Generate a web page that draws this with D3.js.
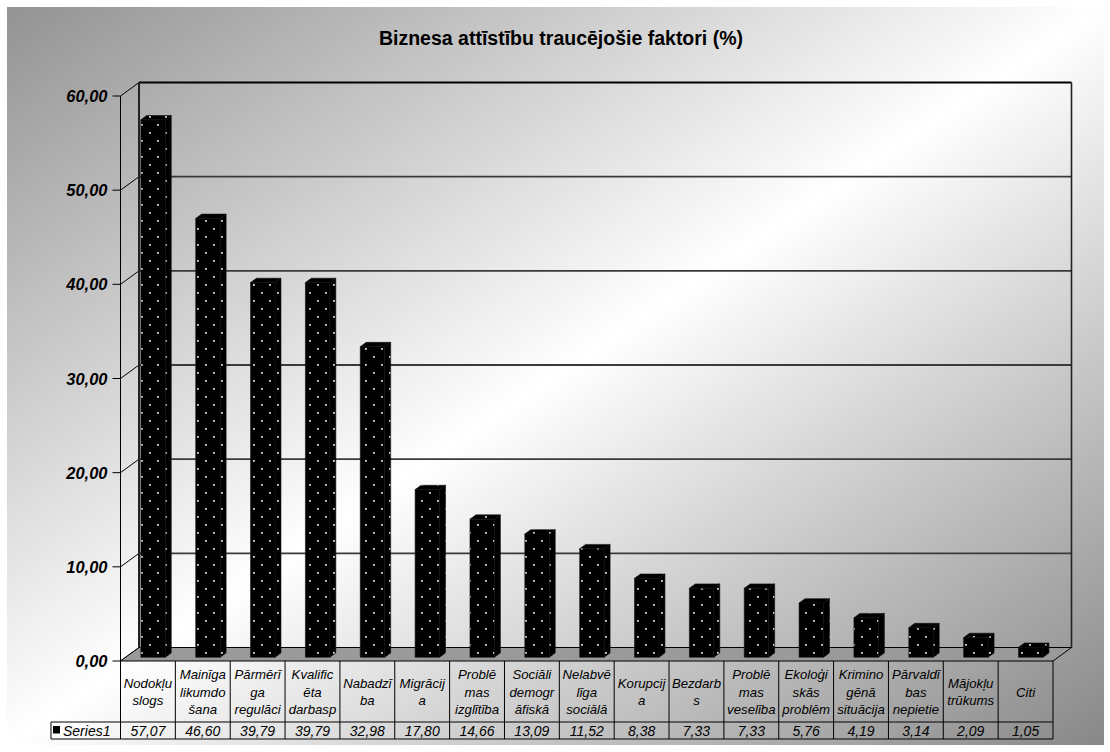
<!DOCTYPE html>
<html><head><meta charset="utf-8">
<script src="https://cdn.jsdelivr.net/npm/d3@7"></script>
<style>html,body{margin:0;padding:0;background:#fff;}svg{display:block;}</style>
</head><body>
<svg id="chart" width="1110" height="752"></svg>
<script>
const title = "Biznesa attīstību traucējošie faktori (%)";
const seriesName = "Series1";
const categories = [
  ["Nodokļu","slogs"],
  ["Mainīga","likumdo","šana"],
  ["Pārmērī","ga","regulāci"],
  ["Kvalific","ēta","darbasp"],
  ["Nabadzī","ba"],
  ["Migrācij","a"],
  ["Problē","mas","izglītība"],
  ["Sociāli","demogr","āfiskā"],
  ["Nelabvē","līga","sociālā"],
  ["Korupcij","a"],
  ["Bezdarb","s"],
  ["Problē","mas","veselība"],
  ["Ekoloģi","skās","problēm"],
  ["Krimino","gēnā","situācija"],
  ["Pārvaldī","bas","nepietie"],
  ["Mājokļu","trūkums"],
  ["Citi"]
];
const values = [57.07,46.60,39.79,39.79,32.98,17.80,14.66,13.09,11.52,8.38,7.33,7.33,5.76,4.19,3.14,2.09,1.05];
const yTicks = [0,10,20,30,40,50,60];

const svg = d3.select("#chart");
const defs = svg.append("defs");
const bg = defs.append("linearGradient").attr("id","bg").attr("x1",0).attr("y1",0).attr("x2",1).attr("y2",1);
bg.append("stop").attr("offset",0).attr("stop-color","#939393");
bg.append("stop").attr("offset",0.5).attr("stop-color","#ffffff");
bg.append("stop").attr("offset",1).attr("stop-color","#888888");
const pat = defs.append("pattern").attr("id","dots").attr("patternUnits","userSpaceOnUse")
  .attr("width",16).attr("height",16).attr("x",3).attr("y",2);
pat.append("rect").attr("width",16).attr("height",16).attr("fill","#000");
pat.append("rect").attr("x",2).attr("y",2).attr("width",1.8).attr("height",1.8).attr("fill","#dcdcdc");
pat.append("rect").attr("x",10).attr("y",10).attr("width",1.8).attr("height",1.8).attr("fill","#dcdcdc");

svg.append("rect").attr("x",7).attr("y",7).attr("width",1097).attr("height",738).attr("fill","url(#bg)");

const FONT = "Arial, 'Liberation Sans', sans-serif";
svg.append("text").attr("x",561).attr("y",45).attr("text-anchor","middle")
  .attr("font-family",FONT).attr("font-weight","bold").attr("font-size",19.5).text(title);

// geometry
const x0 = 120.5, x1 = 1053;
const DX = 18.5, DY = -13.5;
const y = d3.scaleLinear().domain([0,60]).range([661,96]);
const x = d3.scaleBand().domain(d3.range(categories.length)).range([x0,x1]).paddingInner(0).paddingOuter(0);
const fmt = v => d3.format(".2f")(v).replace(".", ",");

// back wall gridlines
const g = svg.append("g");
yTicks.filter(t => t>0 && t<60).forEach(t => {
  g.append("line").attr("x1",x0+DX).attr("x2",x1+DX).attr("y1",y(t)+DY).attr("y2",y(t)+DY)
    .attr("stroke","#3a3a3a").attr("stroke-width",1.8);
});
// left wall diagonals
yTicks.forEach(t => {
  g.append("line").attr("x1",x0).attr("y1",y(t)).attr("x2",x0+DX).attr("y2",y(t)+DY)
    .attr("stroke","#000").attr("stroke-width",1);
});
// back wall outline
g.append("line").attr("x1",x0+DX).attr("x2",x1+DX).attr("y1",y(60)+DY).attr("y2",y(60)+DY).attr("stroke","#000").attr("stroke-width",2);
g.append("line").attr("x1",x0+DX).attr("x2",x0+DX).attr("y1",y(60)+DY).attr("y2",y(0)+DY).attr("stroke","#222").attr("stroke-width",2);
g.append("line").attr("x1",x1+DX).attr("x2",x1+DX).attr("y1",y(60)+DY).attr("y2",y(0)+DY).attr("stroke","#222").attr("stroke-width",1.6);

// floor
g.append("path").attr("d",`M${x0},${y(0)}L${x1},${y(0)}L${x1+DX},${y(0)+DY}L${x0+DX},${y(0)+DY}Z`)
  .attr("fill","#9a9a9a").attr("stroke","#000").attr("stroke-width",1);

// bars
const f0 = 0.28, f1 = 0.6;
const bw = 24.5;
const bars = svg.append("g");
values.forEach((v,i) => {
  const cx = x(i) + x.bandwidth()/2 + f0*DX;
  const xl = cx - bw/2, xr = cx + bw/2;
  const yb = y(0) + f0*DY, yt = y(v) + f0*DY;
  const ddx = (f1-f0)*DX, ddy = (f1-f0)*DY;
  const faces = [
    `M${xl},${yb}L${xr},${yb}L${xr},${yt}L${xl},${yt}Z`,
    `M${xl},${yt}L${xr},${yt}L${xr+ddx},${yt+ddy}L${xl+ddx},${yt+ddy}Z`,
    `M${xr},${yb}L${xr+ddx},${yb+ddy}L${xr+ddx},${yt+ddy}L${xr},${yt}Z`
  ];
  faces.forEach(d => bars.append("path").attr("d",d).attr("fill","url(#dots)").attr("stroke","#111").attr("stroke-width",0.6));
});

// front y axis
const ax = svg.append("g");
ax.append("line").attr("x1",x0).attr("x2",x0).attr("y1",y(60)).attr("y2",739).attr("stroke","#000").attr("stroke-width",1);
yTicks.forEach(t => {
  ax.append("line").attr("x1",x0-8).attr("x2",x0).attr("y1",y(t)).attr("y2",y(t)).attr("stroke","#000");
  ax.append("text").attr("x",x0-13).attr("y",y(t)+6).attr("text-anchor","end")
    .attr("font-family",FONT).attr("font-weight","bold").attr("font-style","italic").attr("font-size",16.5).text(fmt(t));
});

// data table
const tb = svg.append("g");
const rowTop = y(0), rowMid = 722, rowBot = 739;
d3.range(categories.length+1).forEach(i => {
  const xx = i < categories.length ? x(i) : x1;
  tb.append("line").attr("x1",xx).attr("x2",xx).attr("y1",rowTop).attr("y2",rowBot).attr("stroke","#000");
});
tb.append("line").attr("x1",51).attr("x2",x1).attr("y1",rowMid).attr("y2",rowMid).attr("stroke","#000");
tb.append("line").attr("x1",51).attr("x2",x1).attr("y1",rowBot).attr("y2",rowBot).attr("stroke","#000");
tb.append("line").attr("x1",51).attr("x2",51).attr("y1",rowMid).attr("y2",rowBot).attr("stroke","#000");
tb.append("rect").attr("x",53).attr("y",726).attr("width",7).attr("height",7.5).attr("fill","#000");
tb.append("text").attr("x",63).attr("y",735.5).attr("font-family",FONT).attr("font-style","italic").attr("font-size",14).text(seriesName);

const lh = 17.5;
categories.forEach((lines,i) => {
  const cx = x(i) + x.bandwidth()/2;
  const mid = (rowTop + rowMid)/2;
  const first = mid + 5 - (lines.length-1)*lh/2;
  const t = tb.append("text").attr("text-anchor","middle").attr("font-family",FONT)
    .attr("font-style","italic").attr("font-size",13.2);
  lines.forEach((s,k) => t.append("tspan").attr("x",cx).attr("y",first + k*lh).text(s));
  tb.append("text").attr("x",cx).attr("y",735.5).attr("text-anchor","middle").attr("font-family",FONT)
    .attr("font-style","italic").attr("font-size",14).text(fmt(values[i]));
});
</script>
</body></html>
